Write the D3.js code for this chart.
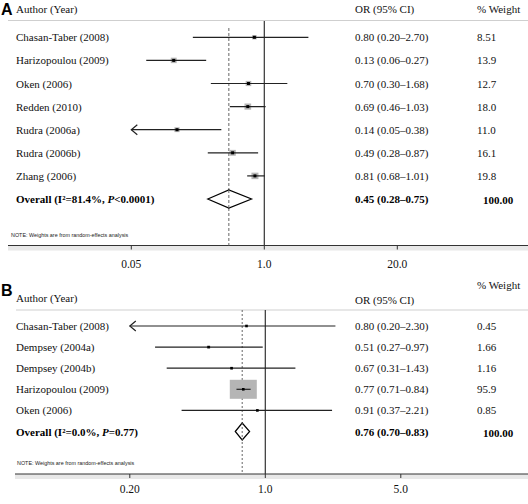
<!DOCTYPE html>
<html>
<head>
<meta charset="utf-8">
<script src="https://cdn.jsdelivr.net/npm/d3@7"></script>
<style>
  html, body { margin: 0; padding: 0; background: #fff; }
  svg { display: block; }
</style>
</head>
<body>
<svg id="chart" width="528" height="504"></svg>
<script>
// ---------- Panel A data ----------
const studiesA = ["Chasan-Taber (2008)", "Harizopoulou (2009)", "Oken (2006)", "Redden (2010)", "Rudra (2006a)", "Rudra (2006b)", "Zhang (2006)"];
const orA = [0.80, 0.13, 0.70, 0.69, 0.14, 0.49, 0.81];
const loA = [0.20, 0.07, 0.30, 0.46, 0.05, 0.28, 0.68];
const hiA = [2.70, 0.27, 1.68, 1.03, 0.38, 0.87, 1.01];
const ciTextA = ["0.80 (0.20–2.70)", "0.13 (0.06–0.27)", "0.70 (0.30–1.68)", "0.69 (0.46–1.03)", "0.14 (0.05–0.38)", "0.49 (0.28–0.87)", "0.81 (0.68–1.01)"];
const weightA = [8.51, 13.9, 12.7, 18.0, 11.0, 16.1, 19.8];
const weightTextA = ["8.51", "13.9", "12.7", "18.0", "11.0", "16.1", "19.8"];
const overallA = { or: 0.45, lo: 0.28, hi: 0.75, i2: "81.4%", p: "<0.0001", ci: "0.45 (0.28–0.75)", w: "100.00" };
const ticksA = [0.05, 1, 20];
const tickLabelsA = ["0.05", "1.0", "20.0"];

// ---------- Panel B data ----------
const studiesB = ["Chasan-Taber (2008)", "Dempsey (2004a)", "Dempsey (2004b)", "Harizopoulou (2009)", "Oken (2006)"];
const orB = [0.80, 0.51, 0.67, 0.77, 0.91];
const loB = [0.20, 0.27, 0.31, 0.71, 0.37];
const hiB = [2.30, 0.97, 1.43, 0.84, 2.21];
const ciTextB = ["0.80 (0.20–2.30)", "0.51 (0.27–0.97)", "0.67 (0.31–1.43)", "0.77 (0.71–0.84)", "0.91 (0.37–2.21)"];
const weightB = [0.45, 1.66, 1.16, 95.9, 0.85];
const weightTextB = ["0.45", "1.66", "1.16", "95.9", "0.85"];
const overallB = { or: 0.76, lo: 0.70, hi: 0.83, i2: "0.0%", p: "=0.77", ci: "0.76 (0.70–0.83)", w: "100.00" };
const ticksB = [0.2, 1, 5];
const tickLabelsB = ["0.20", "1.0", "5.0"];

const noteText = "NOTE: Weights are from random-effects analysis";

const svg = d3.select("#chart");
svg.append("rect").attr("width", 528).attr("height", 504).attr("fill", "#fff");

const SERIF = "'Liberation Serif', 'Times New Roman', Times, serif";
const SANS = "'Liberation Sans', Arial, Helvetica, sans-serif";

function drawPanel(cfg) {
  const g = svg.append("g");
  const x = d3.scaleLog().domain(cfg.domain).range(cfg.range);
  const n = cfg.studies.length;
  const rowY = i => cfg.row0 + i * cfg.rowStep;
  const overallY = cfg.overallY;

  // panel letter
  g.append("text").attr("x", 1).attr("y", cfg.letterY)
    .attr("font-family", SANS).attr("font-weight", "bold").attr("font-size", 16)
    .attr("fill", "#000").text(cfg.letter);

  // headers
  const hdr = g.append("g").attr("font-family", SERIF).attr("font-size", 11).attr("fill", "#111");
  hdr.append("text").attr("x", 16).attr("y", cfg.hdrAuthorY).text("Author (Year)");
  hdr.append("text").attr("x", 355).attr("y", cfg.hdrORY).text("OR (95% CI)");
  hdr.append("text").attr("x", 477).attr("y", cfg.hdrWY).text("% Weight");

  // header separator
  g.append("line").attr("x1", cfg.hdrLineX0).attr("x2", 528)
    .attr("y1", cfg.hdrLineY).attr("y2", cfg.hdrLineY)
    .attr("stroke", "#cfcfcf").attr("stroke-width", 1);

  // axis band + line
  g.append("rect").attr("x", cfg.axisX0).attr("y", cfg.axisY).attr("width", 528 - cfg.axisX0).attr("height", 5)
    .attr("fill", "#e8e8e8");
  g.append("line").attr("x1", cfg.axisX0).attr("x2", 528).attr("y1", cfg.axisY).attr("y2", cfg.axisY)
    .attr("stroke", "#333").attr("stroke-width", 1);
  // ticks
  g.selectAll(".tick").data(cfg.ticks).enter().append("line")
    .attr("x1", d => x(d)).attr("x2", d => x(d))
    .attr("y1", cfg.axisY).attr("y2", cfg.axisY + 4)
    .attr("stroke", "#333").attr("stroke-width", 1);
  g.selectAll(".ticklab").data(cfg.ticks).enter().append("text")
    .attr("x", d => x(d)).attr("y", cfg.tickLabY)
    .attr("text-anchor", "middle").attr("font-family", SERIF).attr("font-size", 11.5).attr("fill", "#111")
    .text((d, i) => cfg.tickLabels[i]);

  // null line at 1
  g.append("line").attr("x1", x(1)).attr("x2", x(1))
    .attr("y1", cfg.nullTop).attr("y2", cfg.axisY)
    .attr("stroke", "#333").attr("stroke-width", 1.2);
  // overall dashed line
  g.append("line").attr("x1", x(cfg.overall.or)).attr("x2", x(cfg.overall.or))
    .attr("y1", cfg.dashTop).attr("y2", cfg.axisY)
    .attr("stroke", "#666").attr("stroke-width", 1).attr("stroke-dasharray", cfg.dash);

  // study rows
  const maxW = d3.max(cfg.weight);
  for (let i = 0; i < n; i++) {
    const y = rowY(i);
    const truncated = cfg.lo[i] <= cfg.domain[0];
    const x0 = truncated ? x(cfg.domain[0]) : x(cfg.lo[i]);
    const x1 = x(Math.min(cfg.hi[i], cfg.domain[1]));
    // weight box
    const s = Math.sqrt(cfg.weight[i] / maxW);
    const bw = cfg.boxW * s, bh = cfg.boxH * s;
    g.append("rect").attr("x", x(cfg.or[i]) - bw / 2).attr("y", y - bh / 2)
      .attr("width", bw).attr("height", bh).attr("fill", "#b5b5b5");
    // CI line
    g.append("line").attr("x1", x0).attr("x2", x1).attr("y1", y).attr("y2", y)
      .attr("stroke", "#222").attr("stroke-width", 1.2);
    if (truncated) {
      g.append("path")
        .attr("d", `M${x0 + 6},${y - 5}L${x0},${y}L${x0 + 6},${y + 5}`)
        .attr("fill", "none").attr("stroke", "#222").attr("stroke-width", 1.2);
    }
    // point
    g.append("rect").attr("x", x(cfg.or[i]) - cfg.dot / 2).attr("y", y - cfg.dot / 2)
      .attr("width", cfg.dot).attr("height", cfg.dot).attr("fill", "#000");

    // texts
    g.append("text").attr("x", 16).attr("y", y + 4).attr("font-family", SERIF).attr("font-size", 11)
      .attr("fill", "#111").text(cfg.studies[i]);
    g.append("text").attr("x", 355).attr("y", y + 4).attr("font-family", SERIF).attr("font-size", 11)
      .attr("fill", "#111").text(cfg.ciText[i]);
    g.append("text").attr("x", 477).attr("y", y + 4).attr("font-family", SERIF).attr("font-size", 11)
      .attr("fill", "#111").text(cfg.weightText[i]);
  }

  // overall diamond
  const o = cfg.overall;
  g.append("path")
    .attr("d", `M${x(o.lo)},${overallY}L${x(o.or)},${overallY - cfg.diaH}L${x(o.hi)},${overallY}L${x(o.or)},${overallY + cfg.diaH}Z`)
    .attr("fill", "#fff").attr("stroke", "#000").attr("stroke-width", 1.2);
  // re-draw dashed line segment over diamond (as in reference)
  g.append("line").attr("x1", x(o.or)).attr("x2", x(o.or))
    .attr("y1", overallY - cfg.diaH).attr("y2", overallY + cfg.diaH)
    .attr("stroke", "#666").attr("stroke-width", 1).attr("stroke-dasharray", cfg.dash);

  const ot = g.append("text").attr("x", 16).attr("y", overallY + 4).attr("font-family", SERIF)
    .attr("font-size", 11).attr("font-weight", "bold").attr("fill", "#000");
  ot.append("tspan").text(`Overall (I²=${o.i2}, `);
  ot.append("tspan").attr("font-style", "italic").text("P");
  ot.append("tspan").text(`${o.p})`);
  g.append("text").attr("x", 355).attr("y", overallY + 4).attr("font-family", SERIF).attr("font-size", 11)
    .attr("font-weight", "bold").attr("fill", "#000").text(o.ci);
  g.append("text").attr("x", 483).attr("y", overallY + 5).attr("font-family", SERIF).attr("font-size", 11)
    .attr("font-weight", "bold").attr("fill", "#000").text(o.w);

  // note
  g.append("text").attr("x", cfg.noteX).attr("y", cfg.noteY).attr("font-family", SANS)
    .attr("font-size", 5.4).attr("fill", "#222").text(noteText);
}

drawPanel({
  letter: "A", letterY: 15,
  studies: studiesA, or: orA, lo: loA, hi: hiA, ciText: ciTextA, weight: weightA, weightText: weightTextA,
  overall: overallA, ticks: ticksA, tickLabels: tickLabelsA,
  domain: [0.05, 20], range: [131.3, 397.3],
  hdrAuthorY: 13, hdrORY: 13, hdrWY: 13, hdrLineY: 20.5, hdrLineX0: 8,
  row0: 37.3, rowStep: 23.1, overallY: 199,
  axisY: 245.5, axisX0: 8, tickLabY: 268,
  nullTop: 21, dashTop: 28, dash: "3,2",
  boxW: 7, boxH: 6.5, dot: 3, diaH: 9,
  noteX: 11, noteY: 236.5
});

drawPanel({
  letter: "B", letterY: 296,
  studies: studiesB, or: orB, lo: loB, hi: hiB, ciText: ciTextB, weight: weightB, weightText: weightTextB,
  overall: overallB, ticks: ticksB, tickLabels: tickLabelsB,
  domain: [0.2, 5], range: [129.8, 400.8],
  hdrAuthorY: 302, hdrORY: 304, hdrWY: 289, hdrLineY: 310, hdrLineX0: 16,
  row0: 326, rowStep: 21.1, overallY: 431.5,
  axisY: 474, axisX0: 15, tickLabY: 493,
  nullTop: 310, dashTop: 310, dash: "2,2",
  boxW: 27, boxH: 19, dot: 2.6, diaH: 8.5,
  noteX: 17, noteY: 465
});
</script>
</body>
</html>
